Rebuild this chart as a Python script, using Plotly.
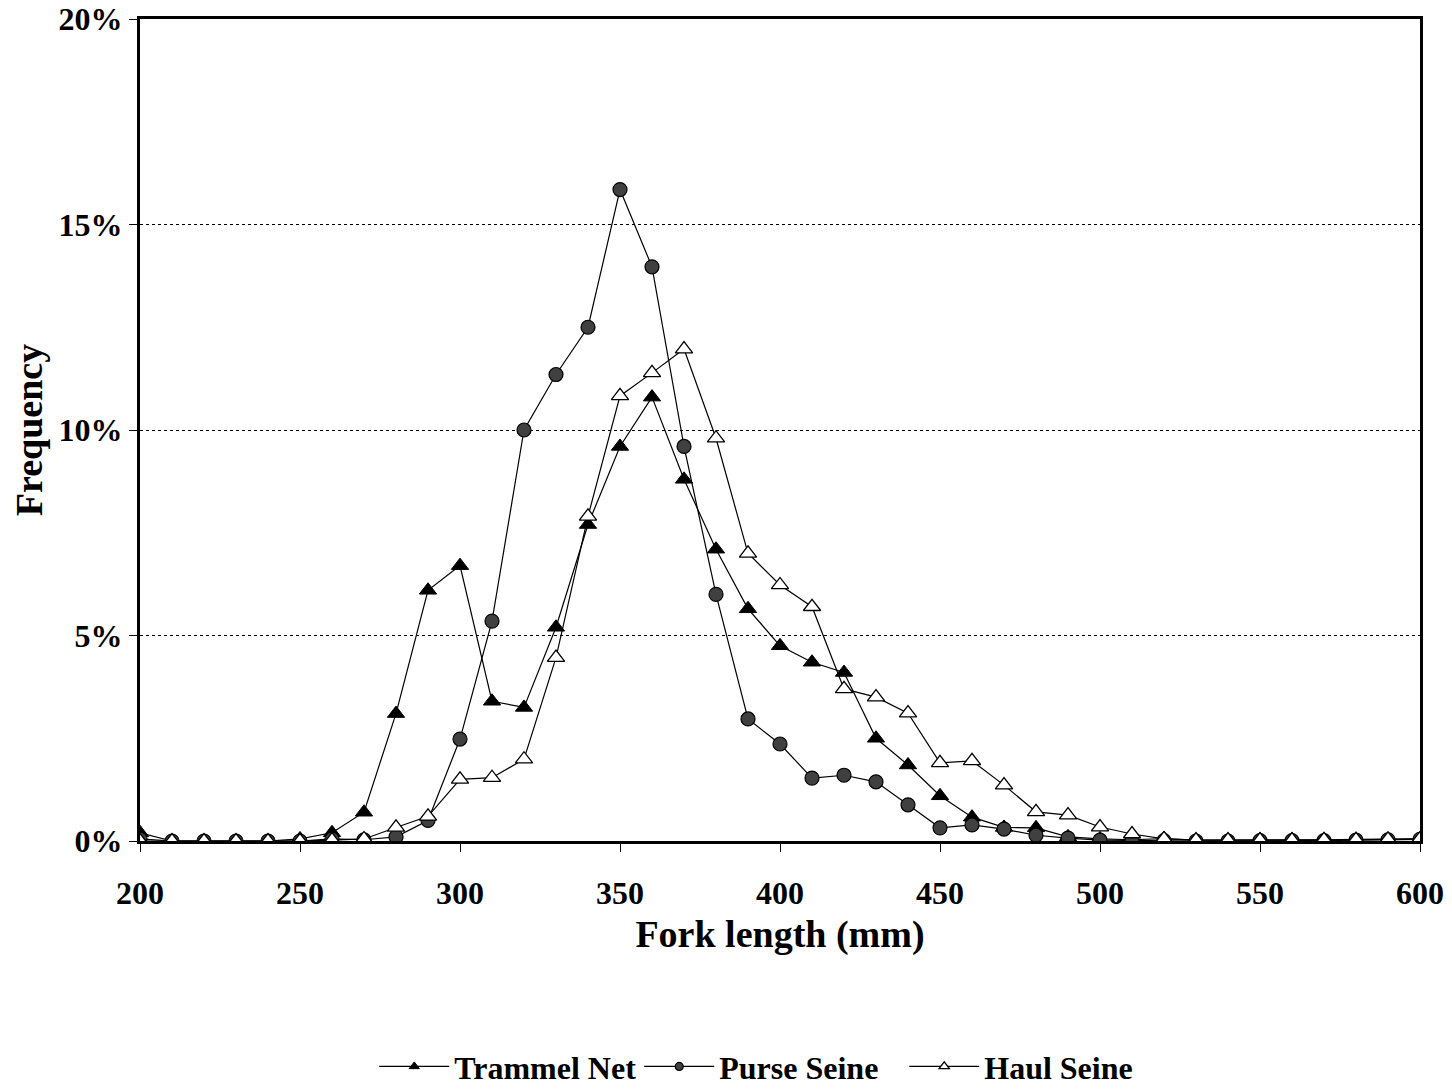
import plotly.graph_objects as go

fork_length = list(range(200, 601, 10))

trammel_net = [0.20, 0.0, 0.0, 0.0, 0.0, 0.05, 0.20, 0.70, 3.10, 6.10,
               6.70, 3.40, 3.25, 5.20, 7.70, 9.60, 10.80, 8.80, 7.10, 5.65,
               4.75, 4.35, 4.10, 2.50, 1.85, 1.10, 0.58, 0.33, 0.32, 0.10,
               0.05, 0.03, 0.06, 0.02, 0.02, 0.03, 0.03, 0.03, 0.04, 0.04, 0.05]

purse_seine = [0.05, 0.0, 0.0, 0.0, 0.0, 0.0, 0.05, 0.03, 0.10, 0.50,
               2.48, 5.35, 10.00, 11.35, 12.50, 15.85, 13.97, 9.60, 6.00, 2.97,
               2.36, 1.53, 1.60, 1.44, 0.88, 0.32, 0.39, 0.29, 0.14, 0.07,
               0.02, 0.01, 0.01, 0.0, 0.0, 0.01, 0.01, 0.01, 0.02, 0.03, 0.04]

haul_seine = [0.0, 0.0, 0.0, 0.0, 0.0, 0.0, 0.02, 0.05, 0.33, 0.60,
              1.50, 1.54, 1.99, 4.46, 7.90, 10.83, 11.39, 11.97, 9.80, 7.00,
              6.23, 5.70, 3.70, 3.50, 3.11, 1.90, 1.95, 1.36, 0.71, 0.63,
              0.34, 0.17, 0.05, 0.02, 0.02, 0.02, 0.02, 0.03, 0.03, 0.04, 0.05]

series_names = ["Trammel Net", "Purse Seine", "Haul Seine"]
y_ticks = [0, 5, 10, 15, 20]
y_tick_labels = ["0%", "5%", "10%", "15%", "20%"]
x_ticks = [200, 250, 300, 350, 400, 450, 500, 550, 600]

FONT = "Liberation Serif"

styles = [
    dict(symbol="triangle-up", color="black", lw=1),
    dict(symbol="circle", color="#404040", lw=1.2),
    dict(symbol="triangle-up", color="white", lw=1.3),
]
sizes = [15, 14, 15]
legend_sizes = [9, 8, 9]

fig = go.Figure()
for name, vals, st, sz in zip(series_names, [trammel_net, purse_seine, haul_seine], styles, sizes):
    fig.add_trace(go.Scatter(
        x=fork_length, y=vals, name=name, mode="lines+markers", showlegend=False,
        line=dict(color="black", width=1.2),
        marker=dict(symbol=st["symbol"], size=sz, color=st["color"],
                    line=dict(color="black", width=st["lw"]))))
# legend entries with smaller marker glyphs, as in the original
for name, st, sz in zip(series_names, styles, legend_sizes):
    fig.add_trace(go.Scatter(
        x=[None], y=[None], name=f"<b>{name}</b>", mode="lines+markers",
        line=dict(color="black", width=1.2),
        marker=dict(symbol=st["symbol"], size=sz, color=st["color"],
                    line=dict(color="black", width=st["lw"]))))

fig.update_layout(
    width=1444, height=1082,
    margin=dict(l=132, r=32, t=11, b=249, autoexpand=False),
    paper_bgcolor="white", plot_bgcolor="white",
    font=dict(family=FONT, color="black", size=24),
    showlegend=True,
    legend=dict(orientation="h", x=0.183, xanchor="left", y=-0.241, yanchor="top",
                font=dict(family=FONT, size=32, color="black"),
                itemwidth=70, entrywidth=180, entrywidthmode="pixels",
                tracegroupgap=0, bgcolor="rgba(0,0,0,0)"),
    xaxis=dict(
        range=[200, 600], tickvals=x_ticks, ticktext=[f"<b>{v}</b>" for v in x_ticks],
        showgrid=False, zeroline=False,
        showline=True, linecolor="black", linewidth=3, mirror=True,
        ticks="outside", ticklen=8, tickwidth=1, tickcolor="black",
        tickfont=dict(family=FONT, size=32, color="black"),
        ticklabelstandoff=14, ticklabeloverflow="allow",
        title=dict(text="<b>Fork length (mm)</b>", font=dict(family=FONT, size=38, color="black"),
                   standoff=10),
    ),
    yaxis=dict(
        range=[0, 20], tickvals=y_ticks, ticktext=[f"<b>{t}</b>" for t in y_tick_labels],
        showgrid=True, gridcolor="black", griddash="dot", gridwidth=1,
        zeroline=False,
        showline=True, linecolor="black", linewidth=3, mirror=True,
        ticks="outside", ticklen=8, tickwidth=1, tickcolor="black",
        tickfont=dict(family=FONT, size=32, color="black"),
        ticklabelstandoff=0, ticklabeloverflow="allow",
        title=dict(text="<b>Frequency</b>", font=dict(family=FONT, size=38, color="black"),
                   standoff=16),
    ),
)

fig.write_html("out.html")
